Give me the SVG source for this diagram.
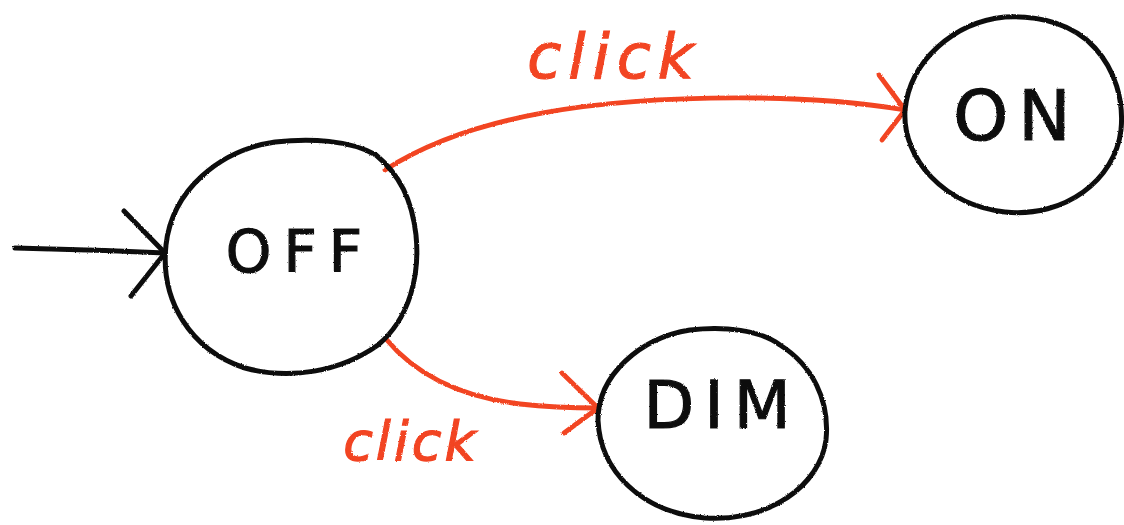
<svg xmlns="http://www.w3.org/2000/svg" width="1124" height="525" viewBox="0 0 1124 525">
  <defs>
    <filter id="rough" x="-5%" y="-5%" width="110%" height="110%">
      <feTurbulence type="fractalNoise" baseFrequency="0.9" numOctaves="2" seed="3" result="n"/>
      <feDisplacementMap in="SourceGraphic" in2="n" scale="2.2" xChannelSelector="R" yChannelSelector="G"/>
    </filter>
  </defs>
  <style>
    .node { fill: none; stroke: #111; stroke-width: 5; stroke-linecap: round; stroke-linejoin: round; }
    .label { font-family: "DejaVu Sans", "Liberation Sans", sans-serif; fill: #111; stroke: #111; stroke-width: 1.2; text-anchor: middle; }
    .edge { fill: none; stroke: #f24422; stroke-width: 4.8; stroke-linecap: round; stroke-linejoin: round; }
    .init { fill: none; stroke: #111; stroke-width: 5; stroke-linecap: round; stroke-linejoin: round; }
    .elabel { font-family: "DejaVu Sans", "Liberation Sans", sans-serif; font-style: italic; fill: #f24422; stroke: #f24422; stroke-width: 1.2; text-anchor: middle; }
  </style>
  <rect width="1124" height="525" fill="#ffffff"/>
  <g id="connectors" filter="url(#rough)">
    <g id="edge-init">
      <path class="init" d="M15,248 C60,249 120,251 165,253"/>
      <path class="init" d="M124,211 L165,253 L131,296"/>
    </g>
    <g id="edge-off-on">
      <path class="edge" d="M385,170 C470,115 600,96 760,98 C830,99 870,104 905,110"/>
      <path class="edge" d="M879,75 L905,110 L882,140"/>
      <text class="elabel" x="614" y="78" font-size="62" letter-spacing="7">click</text>
    </g>
    <g id="edge-off-dim">
      <path class="edge" d="M386,339 C420,380 470,398 520,404 C555,408 580,408 598,408"/>
      <path class="edge" d="M562,373 L598,408 L564,433"/>
      <text class="elabel" x="411" y="460" font-size="54" letter-spacing="3">click</text>
    </g>
  </g>
  <g id="node-off" filter="url(#rough)">
    <path class="node" d="M376,155 C350,140 310,138 275,142 C220,150 172,190 166,245 C160,300 190,350 245,368 C290,380 340,372 378,345 C410,318 420,275 416,235 C412,200 400,175 376,155 Z"/>
    <text class="label" x="300" y="272" font-size="58" letter-spacing="12">OFF</text>
  </g>
  <g id="node-on" filter="url(#rough)">
    <path class="node" d="M1095,48 C1075,25 1040,15 1005,17 C955,22 910,60 905,110 C902,160 945,205 1005,212 C1065,218 1115,180 1121,130 C1124,100 1115,70 1095,48 Z"/>
    <text class="label" x="1017" y="140" font-size="70" letter-spacing="10">ON</text>
  </g>
  <g id="node-dim" filter="url(#rough)">
    <path class="node" d="M780,345 C760,330 725,326 690,330 C640,338 598,375 598,420 C600,470 640,512 705,518 C770,522 820,485 826,440 C830,400 812,365 780,345 Z"/>
    <text class="label" x="722" y="428" font-size="66" letter-spacing="10">DIM</text>
  </g>
</svg>
